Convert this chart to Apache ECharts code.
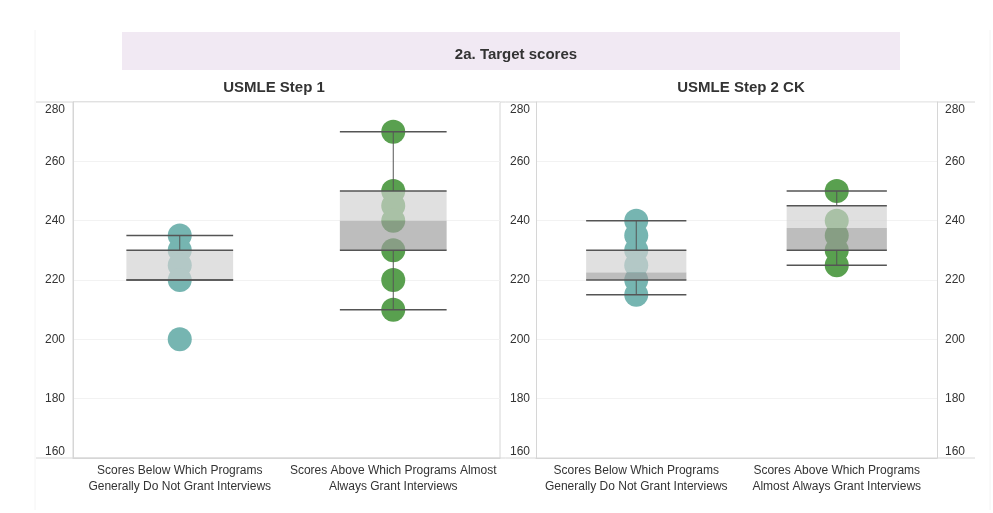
<!DOCTYPE html>
<html lang="en">
<head>
    <meta charset="UTF-8">
    <title>2a. Target scores</title>
    <script src="https://cdn.jsdelivr.net/npm/echarts@6/dist/echarts.min.js"></script>
    <style>
        html, body { margin: 0; padding: 0; background: #fff; }
    </style>
</head>
<body>
    <div id="main" style="width: 993px;height: 513px"></div>
    <script>
        // categories (same for both panels)
        var step1Cats = ['Scores Below Which Programs\nGenerally Do Not Grant Interviews',
                         'Scores Above Which Programs Almost\nAlways Grant Interviews'];
        var step2Cats = ['Scores Below Which Programs\nGenerally Do Not Grant Interviews',
                         'Scores Above Which Programs\nAlmost Always Grant Interviews'];

        // individual responses (circles)
        var step1Below = [235, 230, 225, 220, 200];
        var step1Above = [270, 250, 245, 240, 230, 220, 210];
        var step2Below = [240, 235, 230, 225, 220, 215];
        var step2Above = [250, 240, 235, 230, 225];

        // box plot stats per category: [whisker low, q1, median, q3, whisker high]
        var step1Box = [[220, 220, 220, 230, 235], [210, 230, 240, 250, 270]];
        var step2Box = [[215, 220, 222.5, 230, 240], [225, 230, 237.5, 245, 250]];

        var yTicks = [160, 180, 200, 220, 240, 260, 280];

        var colors = ['#76b5b1', '#59a04f'];
        var font = '"Liberation Sans", Arial, sans-serif';

        function dots(below, above) {
            var out = [];
            below.forEach(function (v) { out.push({ value: [0, v], itemStyle: { color: colors[0] } }); });
            above.forEach(function (v) { out.push({ value: [1, v], itemStyle: { color: colors[1] } }); });
            return out;
        }

        function boxData(stats) {
            return stats.map(function (s, i) { return [i].concat(s); });
        }

        function renderBox(params, api) {
            var c = api.value(0);
            var lo = api.coord([c, api.value(1)]);
            var q1 = api.coord([c, api.value(2)]);
            var md = api.coord([c, api.value(3)]);
            var q3 = api.coord([c, api.value(4)]);
            var hi = api.coord([c, api.value(5)]);
            var hw = api.size([1, 0])[0] * 0.25;
            var x = lo[0];
            var lineStyle = { stroke: '#555', lineWidth: 1.5 };
            function hline(p) {
                return { type: 'line', shape: { x1: x - hw, y1: p[1], x2: x + hw, y2: p[1] }, style: lineStyle };
            }
            function vline(a, b) {
                return { type: 'line', shape: { x1: x, y1: a[1], x2: x, y2: b[1] }, style: { stroke: '#555', lineWidth: 1 } };
            }
            return {
                type: 'group',
                children: [
                    vline(hi, q3),
                    vline(q1, lo),
                    { type: 'rect', shape: { x: x - hw, y: q3[1], width: hw * 2, height: md[1] - q3[1] },
                      style: { fill: 'rgba(209,209,209,0.67)' } },
                    { type: 'rect', shape: { x: x - hw, y: md[1], width: hw * 2, height: q1[1] - md[1] },
                      style: { fill: 'rgba(158,158,158,0.68)' } },
                    hline(q1), hline(q3), hline(lo), hline(hi)
                ]
            };
        }

        function yAxis(grid, pos, margin, split) {
            return {
                type: 'value', gridIndex: grid, position: pos,
                min: yTicks[0], max: yTicks[yTicks.length - 1], interval: 20,
                axisLine: { show: true, lineStyle: { color: '#d6d6d6' } },
                axisTick: { show: false },
                splitLine: { show: split, lineStyle: { color: '#f2f2f2' } },
                axisLabel: { color: '#333', fontFamily: font, fontSize: 12, margin: margin,
                             verticalAlignMaxLabel: 'top', verticalAlignMinLabel: 'bottom',
                             padding: [2, 0, 0, 0] }
            };
        }

        function xAxis(grid, cats) {
            return {
                type: 'category', gridIndex: grid, data: cats,
                axisLine: { show: true, lineStyle: { color: '#d6d6d6' } },
                axisTick: { show: false },
                axisLabel: { color: '#333', fontFamily: font, fontSize: 12, lineHeight: 16, margin: 5, interval: 0 }
            };
        }

        var mCharts = echarts.init(document.getElementById('main'));
        var option = {
            backgroundColor: '#fff',
            animation: false,
            graphic: [
                { type: 'rect', shape: { x: 122, y: 32, width: 778, height: 38 }, style: { fill: '#f1e9f3' }, z: -1 },
                { type: 'line', shape: { x1: 36, y1: 102, x2: 975, y2: 102 }, style: { stroke: '#d6d6d6', lineWidth: 1 } },
                { type: 'line', shape: { x1: 36, y1: 458, x2: 975, y2: 458 }, style: { stroke: '#d6d6d6', lineWidth: 1 } },
                { type: 'line', shape: { x1: 35, y1: 30, x2: 35, y2: 510 }, style: { stroke: '#f4f4f4', lineWidth: 1 } },
                { type: 'line', shape: { x1: 990, y1: 30, x2: 990, y2: 510 }, style: { stroke: '#f4f4f4', lineWidth: 1 } }
            ],
            title: [
                { text: '2a. Target scores', left: 511, top: 42, textAlign: 'center',
                  textStyle: { fontFamily: font, fontSize: 15, fontWeight: 'bold', color: '#333' } },
                { text: 'USMLE Step 1', left: 269, top: 75, textAlign: 'center',
                  textStyle: { fontFamily: font, fontSize: 15, fontWeight: 'bold', color: '#333' } },
                { text: 'USMLE Step 2 CK', left: 736, top: 75, textAlign: 'center',
                  textStyle: { fontFamily: font, fontSize: 15, fontWeight: 'bold', color: '#333' } }
            ],
            grid: [
                { left: 73, right: 493, top: 102, bottom: 55, show: true, borderColor: '#d6d6d6', borderWidth: 1 },
                { left: 536, right: 56, top: 102, bottom: 55 }
            ],
            xAxis: [xAxis(0, step1Cats), xAxis(1, step2Cats)],
            yAxis: [yAxis(0, 'left', 8, true), yAxis(1, 'left', 6, true), yAxis(1, 'right', 8, false)],
            series: [
                { type: 'scatter', xAxisIndex: 0, yAxisIndex: 0, symbolSize: 24, z: 2,
                  itemStyle: { opacity: 1 }, data: dots(step1Below, step1Above) },
                { type: 'scatter', xAxisIndex: 1, yAxisIndex: 1, symbolSize: 24, z: 2,
                  itemStyle: { opacity: 1 }, data: dots(step2Below, step2Above) },
                { type: 'custom', xAxisIndex: 0, yAxisIndex: 0, z: 3, renderItem: renderBox,
                  data: boxData(step1Box) },
                { type: 'custom', xAxisIndex: 1, yAxisIndex: 1, z: 3, renderItem: renderBox,
                  data: boxData(step2Box) }
            ]
        };
        mCharts.setOption(option);
    </script>
</body>
</html>
